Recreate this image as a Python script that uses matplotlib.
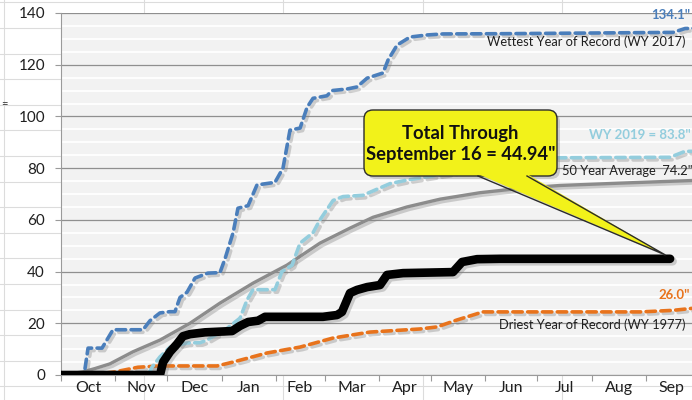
import matplotlib
matplotlib.use("Agg")
import matplotlib.pyplot as plt
import matplotlib.patheffects as pe
from matplotlib.patches import FancyBboxPatch, Polygon
import numpy as np

plt.rcParams['font.family'] = ['Lato', 'DejaVu Sans']

# ---------------- data (day of water year from Oct 1, inches) ----------------
month_labels = ["Oct", "Nov", "Dec", "Jan", "Feb", "Mar", "Apr", "May", "Jun", "Jul", "Aug", "Sep"]
month_lengths = [31, 30, 31, 31, 28, 31, 30, 31, 30, 31, 31, 30]

wettest_days = [0, 13.2, 15.5, 23.5, 29.8, 47, 51, 56.7, 62.5, 65.3, 68.2, 72.2, 76.8, 84.2, 91.1, 94,
                98.6, 101.4, 107.2, 112.3, 122.6, 127.2, 131.2, 137, 141, 144.4, 152.4, 155.3, 163.9,
                169.6, 175.4, 184.5, 187.4, 192.6, 200, 209.7, 218.9, 253.3, 350.7, 357.6, 365]
wettest_vals = [0, 0, 10.4, 10.4, 17.5, 17.5, 21, 24, 24.5, 24.5, 30, 32, 37.5, 39.4, 39.6, 45,
                55, 64.5, 65.5, 73.5, 74.5, 80, 94.7, 95.5, 103.5, 107, 108, 110, 110.6,
                111.4, 114.8, 116.8, 121.8, 127.6, 130.7, 131.5, 131.9, 132, 132.5, 134, 134.1]

wy2019_days = [0, 49.9, 52.1, 56.7, 62.5, 72.2, 79.7, 83.7, 95.1, 102.6, 106.6, 110, 122.6, 126.6,
               132.4, 137, 144.4, 148.4, 155.9, 161.6, 173, 188.5, 198.3, 222, 228.7, 251.6, 284.2,
               349, 357.6, 365]
wy2019_vals = [0, 0, 3, 7, 10.8, 12.4, 12.5, 13.5, 18, 22, 29, 33, 33, 40,
               42.5, 51, 55, 60, 67.5, 69, 69.5, 74, 75.4, 78, 79, 82, 84,
               84.2, 86.5, 86.5]

avg_days = [0, 12.6, 19.5, 28, 41.3, 56.7, 73.9, 91.1, 110, 129.5, 148.4, 165.6, 178.8, 198.3,
            217.2, 240.1, 263, 286, 320.3, 365]
avg_vals = [0, 1.2, 2.5, 4.3, 9, 13.5, 20, 27.8, 35.5, 42.5, 51, 56.8, 61, 65,
            68, 70.5, 72.2, 73.3, 74.2, 75.3]

driest_days = [0, 19.5, 30.9, 44.1, 56.7, 89.4, 98.6, 118, 137, 155.9, 177, 205.7, 215.5, 227,
               241.8, 331.8, 350.7, 365]
driest_vals = [0, 0.3, 1.2, 3, 3.5, 3.5, 5, 8.5, 10.8, 14.3, 16.6, 17.8, 18.6, 21.3,
               24.4, 24.4, 25, 26]

current_days = [0, 56.7, 58.5, 62.5, 66.5, 69.9, 73.9, 82.5, 98, 102.6, 107.2, 112.9, 116.9, 150.1,
                158.2, 161, 165.6, 169.6, 175.4, 182.8, 186.8, 196, 224.6, 229.8, 238.4, 251.6, 349]
current_vals = [0, 0, 5, 9, 12, 15, 15.8, 16.5, 17, 19, 20.5, 21, 22.5, 22.5,
                23.2, 24.4, 31.7, 32.9, 34, 34.8, 38.7, 39.4, 39.8, 43.7, 44.8, 44.94, 44.94]

label_wettest = "Wettest Year of Record (WY 2017)"
label_wettest_val = "134.1\""
label_wy2019 = "WY 2019 = 83.8\""
label_avg = "50 Year Average  74.2\""
label_driest = "Driest Year of Record (WY 1977)"
label_driest_val = "26.0\""
callout_text = "Total Through\nSeptember 16 = 44.94\""

# ---------------- figure ----------------
W, H = 692, 400
fig = plt.figure(figsize=(W / 100, H / 100), dpi=100)
fig.patch.set_facecolor("white")

# spreadsheet cell lines in the background
bg = fig.add_axes([0, 0, 1, 1], zorder=-5)
bg.set_xlim(0, W)
bg.set_ylim(H, 0)
bg.axis("off")
for yy in np.arange(2.4, H, 25.6):
    bg.axhline(yy, color="#dcdcdc", lw=0.8)
for xx in np.arange(4, W, 139.5):
    bg.axvline(xx, color="#dcdcdc", lw=0.8)
bg.text(1, 104, "=", fontsize=8, color="#333333", va="center", ha="left")

left, right, bottom, top = 61, 698, 375, 13
ax = fig.add_axes([left / W, 1 - bottom / H, (right - left) / W, (bottom - top) / H])
ax.set_facecolor("#f2f2f2")
ax.set_xlim(0, 365)
ax.set_ylim(0, 140)

starts = np.concatenate([[0], np.cumsum(month_lengths)])
mids = starts[:-1] + np.array(month_lengths) / 2.0
ax.set_xticks(starts)
ax.set_xticklabels([])
ax.set_xticks(mids, minor=True)
ax.set_xticklabels(month_labels, minor=True)
ax.tick_params(axis="x", which="major", length=4, color="#9a9a9a", direction="out")
ax.tick_params(axis="x", which="minor", length=0, pad=4, labelsize=11.5, labelcolor="#1f1f1f")

ax.set_yticks(np.arange(0, 141, 20))
ax.set_yticks(np.arange(0, 141, 5), minor=True)
ax.tick_params(axis="y", which="major", length=4.5, color="#9a9a9a", pad=7, labelsize=11,
               labelcolor="#1f1f1f")
ax.tick_params(axis="y", which="minor", length=0)
ax.grid(True, axis="y", which="minor", color="white", lw=1.3, zorder=0)
ax.grid(True, axis="y", which="major", color="#8f8f8f", lw=0.9, zorder=0)
ax.set_axisbelow(True)
for s in ["top", "right"]:
    ax.spines[s].set_visible(False)
ax.spines["left"].set_color("#9a9a9a")
ax.spines["bottom"].set_color("#9a9a9a")

shadow = [pe.SimpleLineShadow(offset=(1.8, -1.8), shadow_color="#7f7f7f", alpha=0.35), pe.Normal()]

ax.plot(driest_days, driest_vals, color="#e8731c", lw=2.6, dashes=(2.6, 1.5),
        dash_capstyle="round", path_effects=shadow, zorder=3)
ax.plot(avg_days, avg_vals, color="#8c8c8c", lw=2.4, path_effects=shadow, zorder=3)
ax.plot(wy2019_days, wy2019_vals, color="#93cddd", lw=2.6, dashes=(2.6, 1.5),
        dash_capstyle="round", path_effects=shadow, zorder=3)
ax.plot(wettest_days, wettest_vals, color="#4a7ebb", lw=2.6, dashes=(2.6, 1.5),
        dash_capstyle="round", path_effects=shadow, zorder=3)
ax.plot(current_days, current_vals, color="black", lw=6.2, solid_capstyle="round",
        solid_joinstyle="round", path_effects=shadow, zorder=4)

# series text labels
ax.text(360.5, 139.3, label_wettest_val, color="#4a7ebb", fontsize=9.5, fontweight="bold",
        ha="right", va="center")
ax.text(357.6, 128.8, label_wettest, color="#1f1f1f", fontsize=9.3, ha="right", va="center")
ax.text(361, 92.8, label_wy2019, color="#93cddd", fontsize=9.5, fontweight="bold",
        ha="right", va="center")
ax.text(361.6, 78.9, label_avg, color="#1f1f1f", fontsize=9.3, ha="right", va="center", zorder=5)
ax.text(360.5, 30.9, label_driest_val, color="#e8731c", fontsize=9.5, fontweight="bold",
        ha="right", va="center")
ax.text(357.6, 19.3, label_driest, color="#1f1f1f", fontsize=9.3, ha="right", va="center")

# callout (in pixel overlay)
ov = fig.add_axes([0, 0, 1, 1], zorder=10)
ov.set_xlim(0, W)
ov.set_ylim(H, 0)
ov.axis("off")
tip_disp = ax.transData.transform((current_days[-1], current_vals[-1]))
tip = ov.transData.inverted().transform(tip_disp)
tip = (tip[0] - 5, tip[1] - 4)

bx0, by0, bx1, by1 = 364, 110, 557, 176
# shadow
ov.add_patch(FancyBboxPatch((bx0 + 3, by0 + 3), bx1 - bx0, by1 - by0,
                            boxstyle="round,pad=0,rounding_size=9", fc="#808080", ec="none",
                            alpha=0.35))
ov.add_patch(Polygon([(481, by1), (530, by1), (tip[0] + 2, tip[1] + 2)], closed=True,
                     fc="#808080", ec="none", alpha=0.3))
ov.add_patch(FancyBboxPatch((bx0, by0), bx1 - bx0, by1 - by0,
                            boxstyle="round,pad=0,rounding_size=9", fc="#f2f21a", ec="#2b2b2b",
                            lw=1.0))
ov.add_patch(Polygon([(478, by1 - 2), (527, by1 - 2), tip], closed=True, fc="#f2f21a", ec="none"))
ov.plot([478, tip[0], 527], [by1, tip[1], by1], color="#2b2b2b", lw=1.0)
ov.text((bx0 + bx1) / 2, (by0 + by1) / 2 + 1, callout_text, ha="center", va="center",
        fontsize=13.2, fontweight="bold", color="#111111", linespacing=1.3)

fig.savefig("out.png", dpi=100)
